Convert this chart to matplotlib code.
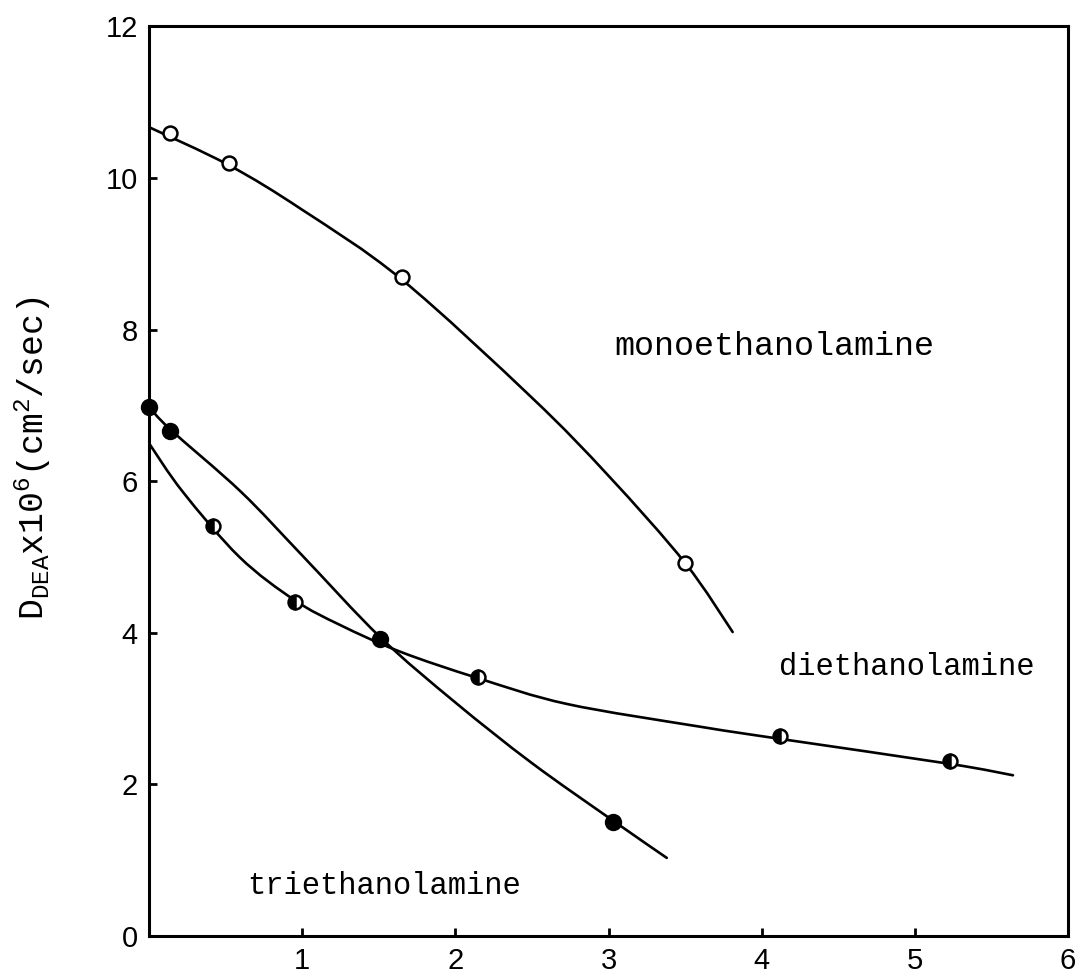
import matplotlib
matplotlib.use("Agg")
import matplotlib.pyplot as plt
from matplotlib.path import Path
from matplotlib.patches import PathPatch

# measured points
mono_x = [0.14, 0.52, 1.65, 3.50]
mono_y = [10.59, 10.20, 8.70, 4.92]
di_x = [0.42, 0.95, 2.15, 4.12, 5.23]
di_y = [5.41, 4.41, 3.42, 2.64, 2.31]
tri_x = [0.0, 0.14, 1.51, 3.03]
tri_y = [6.98, 6.66, 3.92, 1.50]

# hand-drawn curves (knots)
mono_cx = [0.0, 0.52, 1.0, 1.65, 2.5, 3.0, 3.5, 3.81]
mono_cy = [10.67, 10.17, 9.58, 8.66, 7.10, 6.07, 4.92, 4.01]
di_cx = [0.0, 0.22, 0.59, 0.95, 1.25, 1.64, 2.15, 2.73, 3.6, 4.12, 5.23, 5.64]
di_cy = [6.50, 5.86, 5.00, 4.43, 4.10, 3.75, 3.40, 3.06, 2.76, 2.60, 2.27, 2.12]
tri_cx = [0.0, 0.14, 0.6, 1.0, 1.51, 2.0, 2.5, 3.03, 3.38]
tri_cy = [6.98, 6.68, 5.86, 5.02, 3.94, 3.08, 2.28, 1.52, 1.03]

xticks = [1, 2, 3, 4, 5, 6]
yticks = [0, 2, 4, 6, 8, 10, 12]


def smooth_path(xs, ys):
    pts = list(zip(xs, ys))
    verts = [pts[0]]
    codes = [Path.MOVETO]
    n = len(pts)
    for i in range(n - 1):
        p0 = pts[i - 1] if i > 0 else pts[i]
        p1 = pts[i]
        p2 = pts[i + 1]
        p3 = pts[i + 2] if i + 2 < n else pts[i + 1]
        c1 = (p1[0] + (p2[0] - p0[0]) / 6, p1[1] + (p2[1] - p0[1]) / 6)
        c2 = (p2[0] - (p3[0] - p1[0]) / 6, p2[1] - (p3[1] - p1[1]) / 6)
        verts += [c1, c2, p2]
        codes += [Path.CURVE4] * 3
    return Path(verts, codes)


plt.rcParams['mathtext.fontset'] = 'custom'
plt.rcParams['mathtext.rm'] = 'Liberation Mono'
plt.rcParams['mathtext.it'] = 'Liberation Mono'

fig = plt.figure(figsize=(10.8, 9.76), dpi=100)
ax = fig.add_axes([0.138, 0.041, 0.851, 0.932])
ax.set_xlim(0, 6)
ax.set_ylim(0, 12)

lw = 1.9
for cx, cy in [(mono_cx, mono_cy), (di_cx, di_cy), (tri_cx, tri_cy)]:
    ax.add_patch(PathPatch(smooth_path(cx, cy), facecolor='none',
                           edgecolor='black', lw=lw, zorder=2,
                           capstyle='round', joinstyle='round'))

ax.plot(mono_x, mono_y, 'o', ms=10, mfc='white', mec='black', mew=1.8, zorder=3)
ax.plot(di_x, di_y, 'o', ms=10, fillstyle='left', mfc='black', mfcalt='white',
        mec='black', mew=1.8, zorder=3)
ax.plot(tri_x, tri_y, 'o', ms=11, mfc='black', mec='black', mew=1.5, zorder=3,
        clip_on=False)

mono_font = 'Liberation Mono'
ax.text(3.04, 7.78, 'monoethanolamine', family=mono_font, fontsize=24, va='center')
ax.text(4.11, 3.55, 'diethanolamine', family=mono_font, fontsize=22, va='center')
ax.text(0.64, 0.66, 'triethanolamine', family=mono_font, fontsize=22, va='center')

ax.set_xticks(xticks)
ax.set_yticks(yticks)
ax.tick_params(direction='in', length=6, width=2, labelsize=21, pad=8,
               top=False, right=False)
for lab in ax.get_xticklabels() + ax.get_yticklabels():
    lab.set_family('Liberation Sans')
for s in ax.spines.values():
    s.set_linewidth(2.2)

fig.text(0.03, 0.53, r'$\mathrm{D_{DEA}x10^6(cm^2/sec)}$', rotation=90,
         fontsize=25, va='center', ha='center')

fig.savefig('out.png', dpi=100)
